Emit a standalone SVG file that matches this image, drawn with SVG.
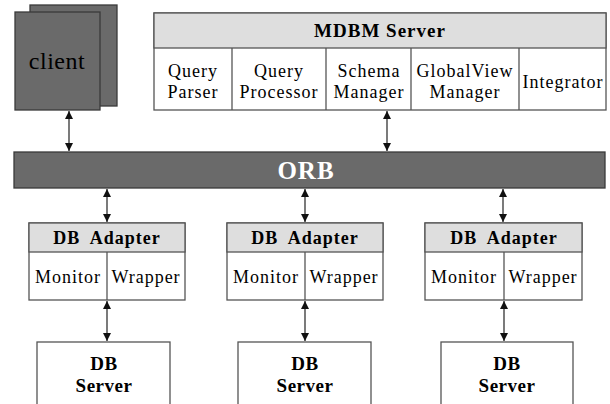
<svg xmlns="http://www.w3.org/2000/svg" width="610" height="404" viewBox="0 0 610 404">
  <defs>
    <marker id="tip" viewBox="0 0 10 10" refX="10" refY="5" markerWidth="9" markerHeight="8" markerUnits="userSpaceOnUse" orient="auto-start-reverse">
      <path d="M0,0 L10,5 L0,10 z" fill="#111"/>
    </marker>
    <style>
      text { font-family: "Liberation Serif", "Times New Roman", serif; fill: #000; text-anchor: middle; }
      .box { fill: #ffffff; stroke: #555; stroke-width: 1.3; }
      .head { fill: #dedede; stroke: #555; stroke-width: 1.3; }
      .dark { fill: #6a6a6a; stroke: #3a3a3a; stroke-width: 1.3; }
      .div { stroke: #555; stroke-width: 1.3; }
      .lbl { font-size: 18px; letter-spacing: 1px; }
      .bold { font-weight: bold; }
      .srv { font-size: 19px; letter-spacing: 0.5px; font-weight: bold; }
      .link { stroke: #222; stroke-width: 1.2; fill: none; marker-start: url(#tip); marker-end: url(#tip); }
    </style>
  </defs>

  <!-- client: stacked pages -->
  <g id="client">
    <rect class="dark" x="30" y="5" width="87" height="101"/>
    <rect class="dark" x="15" y="12" width="85" height="98"/>
    <text x="57" y="69" style="font-size:24px;letter-spacing:0.5px">client</text>
  </g>

  <!-- MDBM server with its components -->
  <g id="mdbm-server">
    <rect class="box" x="154" y="13" width="452" height="97"/>
    <rect class="head" x="154" y="13" width="452" height="35"/>
    <text class="lbl bold" x="380" y="37" style="font-size:19px">MDBM Server</text>
    <line class="div" x1="232" y1="48" x2="232" y2="110"/>
    <line class="div" x1="326" y1="48" x2="326" y2="110"/>
    <line class="div" x1="411" y1="48" x2="411" y2="110"/>
    <line class="div" x1="519" y1="48" x2="519" y2="110"/>
    <text class="lbl" x="193" y="77">Query</text>
    <text class="lbl" x="193" y="98">Parser</text>
    <text class="lbl" x="279" y="77">Query</text>
    <text class="lbl" x="279" y="98">Processor</text>
    <text class="lbl" x="369" y="77">Schema</text>
    <text class="lbl" x="369" y="98">Manager</text>
    <text class="lbl" x="465" y="77">GlobalView</text>
    <text class="lbl" x="465" y="98">Manager</text>
    <text class="lbl" x="563" y="88">Integrator</text>
  </g>

  <!-- ORB bus -->
  <g id="orb">
    <rect class="dark" x="14" y="152" width="591" height="36"/>
    <text class="bold" x="306" y="179" style="font-size:25px;fill:#ffffff;letter-spacing:1px">ORB</text>
  </g>

  <!-- DB adapters -->
  <g id="adapter-1">
    <rect class="box" x="29" y="223" width="156" height="77"/>
    <rect class="head" x="29" y="223" width="156" height="29"/>
    <line class="div" x1="107" y1="252" x2="107" y2="300"/>
    <text class="lbl bold" x="107" y="244" style="word-spacing:5px">DB Adapter</text>
    <text class="lbl" x="68" y="283">Monitor</text>
    <text class="lbl" x="146" y="283">Wrapper</text>
  </g>
  <g id="adapter-2">
    <rect class="box" x="227" y="223" width="156" height="77"/>
    <rect class="head" x="227" y="223" width="156" height="29"/>
    <line class="div" x1="305" y1="252" x2="305" y2="300"/>
    <text class="lbl bold" x="305" y="244" style="word-spacing:5px">DB Adapter</text>
    <text class="lbl" x="266" y="283">Monitor</text>
    <text class="lbl" x="344" y="283">Wrapper</text>
  </g>
  <g id="adapter-3">
    <rect class="box" x="425" y="223" width="157" height="77"/>
    <rect class="head" x="425" y="223" width="157" height="29"/>
    <line class="div" x1="504" y1="252" x2="504" y2="300"/>
    <text class="lbl bold" x="504" y="244" style="word-spacing:5px">DB Adapter</text>
    <text class="lbl" x="464" y="283">Monitor</text>
    <text class="lbl" x="543" y="283">Wrapper</text>
  </g>

  <!-- DB servers -->
  <g id="db-server-1">
    <rect class="box" x="37" y="342" width="133" height="70"/>
    <text class="srv" x="104" y="370">DB</text>
    <text class="srv" x="104" y="392">Server</text>
  </g>
  <g id="db-server-2">
    <rect class="box" x="238" y="342" width="133" height="70"/>
    <text class="srv" x="305" y="370">DB</text>
    <text class="srv" x="305" y="392">Server</text>
  </g>
  <g id="db-server-3">
    <rect class="box" x="441" y="342" width="132" height="70"/>
    <text class="srv" x="507" y="370">DB</text>
    <text class="srv" x="507" y="392">Server</text>
  </g>

  <!-- bidirectional links -->
  <g id="connectors">
    <line class="link" x1="69" y1="111" x2="69" y2="151"/>
    <line class="link" x1="387" y1="111" x2="387" y2="151"/>
    <line class="link" x1="107" y1="189" x2="107" y2="222"/>
    <line class="link" x1="305" y1="189" x2="305" y2="222"/>
    <line class="link" x1="503" y1="189" x2="503" y2="222"/>
    <line class="link" x1="107" y1="301" x2="107" y2="341"/>
    <line class="link" x1="305" y1="301" x2="305" y2="341"/>
    <line class="link" x1="504" y1="301" x2="504" y2="341"/>
  </g>
</svg>
